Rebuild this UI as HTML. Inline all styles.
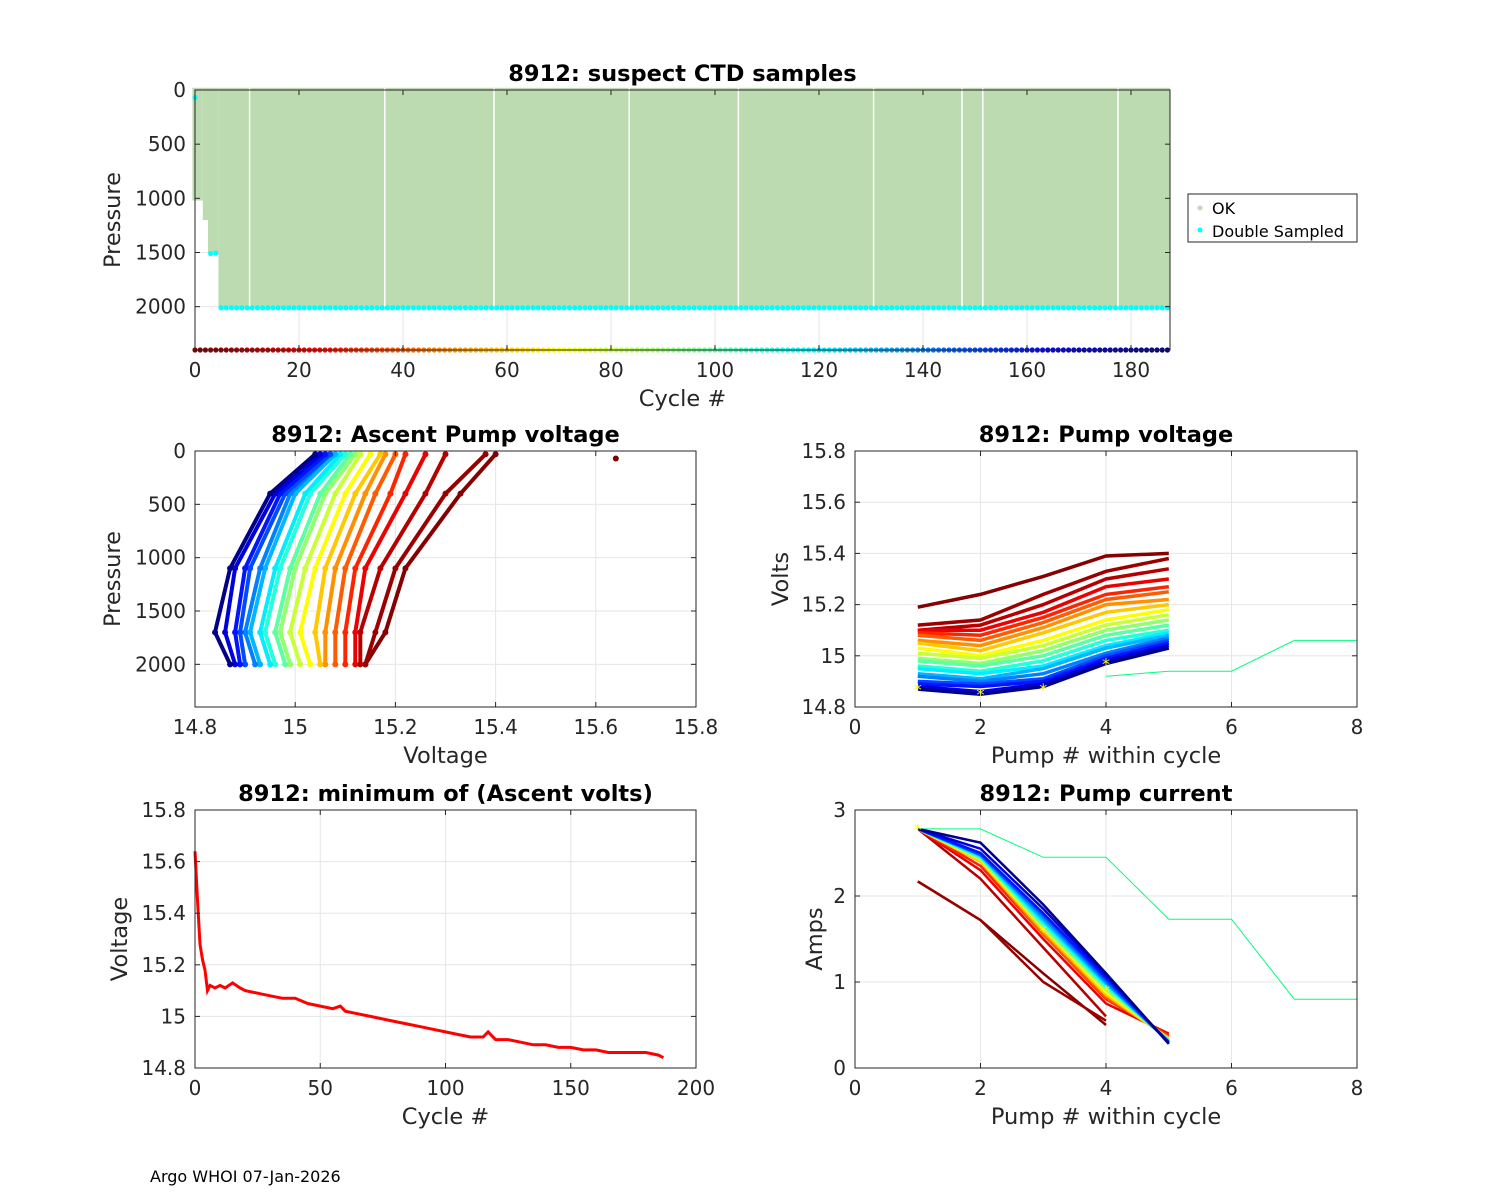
<!DOCTYPE html>
<html><head><meta charset="utf-8">
<style>
body{margin:0;background:#fff;}
svg{display:block;font-family:"DejaVu Sans","Liberation Sans",sans-serif;}
.tick{font-size:20px;fill:#262626;}
.lab{font-size:22.5px;fill:#262626;}
.ttl{font-size:22.5px;font-weight:bold;fill:#000;}
</style></head>
<body>
<svg id="fig" width="1500" height="1200" viewBox="0 0 1500 1200">
<rect width="1500" height="1200" fill="#fff"/>
<text x="150" y="1182" font-size="16" fill="#000">Argo WHOI 07-Jan-2026</text>
</svg>
<script>
// ---------- data ----------
const depthRuns = [[0,1,1020],[2,2,1200],[3,4,1500],[5,187,2000]];
const gapCycles = [10.5,36.5,57.5,83.5,104.5,130.5,147.5,151.5,177.5];
const doubleSampledP = [[0,70],[3,1510],[4,1505]];
const lastCycle = 187;

const profCycles = [1,5,10,20,30,40,50,60,70,80,90,100,110,120,130,140,150,160,170,185];
const profPress = [30,400,1100,1700,2000];
const profVolts = [
 [15.40,15.33,15.22,15.18,15.14],[15.38,15.30,15.20,15.16,15.14],[15.30,15.26,15.17,15.13,15.13],
 [15.26,15.22,15.14,15.12,15.12],[15.22,15.19,15.12,15.10,15.10],[15.20,15.16,15.10,15.08,15.08],
 [15.18,15.14,15.08,15.06,15.06],[15.17,15.12,15.06,15.04,15.05],[15.15,15.10,15.04,15.01,15.03],
 [15.13,15.08,15.02,14.99,15.01],[15.12,15.06,15.00,14.97,14.99],[15.11,15.05,14.99,14.96,14.98],
 [15.10,15.03,14.97,14.94,14.96],[15.09,15.02,14.96,14.93,14.95],[15.08,15.00,14.94,14.91,14.93],
 [15.07,14.99,14.93,14.90,14.92],[15.07,14.98,14.91,14.89,14.90],[15.06,14.97,14.90,14.88,14.89],
 [15.05,14.96,14.88,14.86,14.88],[15.04,14.95,14.87,14.84,14.87]];

const pumpNums = [1,2,3,4,5];
const pumpVolts = [
 [15.19,15.24,15.31,15.39,15.40],[15.12,15.14,15.24,15.33,15.38],[15.10,15.12,15.20,15.30,15.34],
 [15.10,15.10,15.17,15.27,15.30],[15.09,15.08,15.15,15.24,15.27],[15.08,15.06,15.13,15.22,15.25],
 [15.06,15.04,15.11,15.20,15.22],[15.05,15.02,15.09,15.17,15.20],[15.03,15.00,15.06,15.14,15.18],
 [15.01,14.99,15.04,15.12,15.16],[14.99,14.97,15.02,15.10,15.14],[14.98,14.96,15.00,15.08,15.12],
 [14.96,14.94,14.98,15.06,15.10],[14.95,14.93,14.96,15.04,15.09],[14.93,14.91,14.95,15.03,15.08],
 [14.92,14.90,14.93,15.01,15.07],[14.90,14.89,14.91,15.00,15.06],[14.89,14.88,14.90,14.99,15.05],
 [14.88,14.86,14.89,14.98,15.04],[14.87,14.85,14.88,14.97,15.03]];
const outlierPumps = [4,5,6,7,8];
const outlierVolts = [14.92,14.94,14.94,15.06,15.06];
const starVolts = [[1,14.87],[2,14.85],[3,14.87],[4,14.97]];

const pumpAmps = [
 [2.17,1.72,1.10,0.50,null],[2.17,1.72,1.00,0.55,null],[2.78,2.20,1.40,0.60,null],
 [2.78,2.30,1.50,0.75,0.40],[2.78,2.35,1.55,0.80,0.38],[2.78,2.40,1.55,0.82,0.36],
 [2.78,2.40,1.58,0.85,0.35],[2.78,2.40,1.60,0.85,0.34],[2.78,2.42,1.62,0.88,0.34],
 [2.78,2.42,1.62,0.90,0.33],[2.78,2.44,1.65,0.92,0.33],[2.78,2.45,1.66,0.94,0.32],
 [2.78,2.45,1.68,0.95,0.32],[2.78,2.46,1.70,0.97,0.31],[2.78,2.47,1.72,0.98,0.31],
 [2.78,2.48,1.75,1.00,0.30],[2.78,2.48,1.78,1.02,0.30],[2.78,2.50,1.80,1.05,0.30],
 [2.78,2.55,1.85,1.08,0.29],[2.78,2.62,1.90,1.10,0.28]];
const outlierAmpPumps = [1,2,3,4,5,6,7,8];
const outlierAmps = [2.78,2.78,2.45,2.45,1.73,1.73,0.80,0.80];
const starAmps = [[1,2.78],[3,1.60],[4,0.90]];

const minCycles = [0,1,2,3,4,5,6,8,10,12,15,18,20,25,30,35,40,45,50,55,58,60,65,70,75,80,85,90,95,100,105,110,115,117,120,125,130,135,140,145,150,155,160,165,170,175,180,185,187];
const minVolts = [15.64,15.45,15.28,15.22,15.18,15.10,15.12,15.11,15.12,15.11,15.13,15.11,15.10,15.09,15.08,15.07,15.07,15.05,15.04,15.03,15.04,15.02,15.01,15.00,14.99,14.98,14.97,14.96,14.95,14.94,14.93,14.92,14.92,14.94,14.91,14.91,14.90,14.89,14.89,14.88,14.88,14.87,14.87,14.86,14.86,14.86,14.86,14.85,14.84];

// ---------- helpers ----------
const NS='http://www.w3.org/2000/svg';
const svg=document.getElementById('fig');
function el(tag,attrs,parent){const e=document.createElementNS(NS,tag);for(const k in attrs)e.setAttribute(k,attrs[k]);(parent||svg).appendChild(e);return e;}
function jet(t){t=Math.max(0,Math.min(1,t));const r=Math.max(0,Math.min(1,1.5-Math.abs(4*t-3))),g=Math.max(0,Math.min(1,1.5-Math.abs(4*t-2))),b=Math.max(0,Math.min(1,1.5-Math.abs(4*t-1)));return `rgb(${Math.round(r*255)},${Math.round(g*255)},${Math.round(b*255)})`;}
function cycColor(c){return jet(1-c/lastCycle);}
function makeAxes(o){
  const sx=v=>o.x0+(v-o.xmin)/(o.xmax-o.xmin)*(o.x1-o.x0);
  const sy=o.rev?(v=>o.y0+(v-o.ymin)/(o.ymax-o.ymin)*(o.y1-o.y0)):(v=>o.y1-(v-o.ymin)/(o.ymax-o.ymin)*(o.y1-o.y0));
  const g=el('g',{});
  el('rect',{x:o.x0,y:o.y0,width:o.x1-o.x0,height:o.y1-o.y0,fill:'#fff'},g);
  const grid=el('g',{stroke:'#e6e6e6','stroke-width':1},g);
  o.xt.forEach(v=>el('line',{x1:sx(v),x2:sx(v),y1:o.y0,y2:o.y1},grid));o.yt.forEach(v=>el('line',{x1:o.x0,x2:o.x1,y1:sy(v),y2:sy(v)},grid));
  const plot=el('g',{},g);
  return {sx,sy,g,plot,o};
}
function finishAxes(A){
  const o=A.o,g=A.g,sx=A.sx,sy=A.sy;
  const fr=el('g',{},g);
  el('rect',{x:o.x0,y:o.y0,width:o.x1-o.x0,height:o.y1-o.y0,fill:'none',stroke:'#262626','stroke-width':1},fr);
  o.xt.forEach((v,i)=>{const x=sx(v);
    el('line',{x1:x,x2:x,y1:o.y1,y2:o.y1-5,stroke:'#262626'},fr);el('line',{x1:x,x2:x,y1:o.y0,y2:o.y0+5,stroke:'#262626'},fr);
    const t=el('text',{x:x,y:o.y1+27,'text-anchor':'middle',class:'tick'},fr);t.textContent=o.xl[i];});
  o.yt.forEach((v,i)=>{const y=sy(v);
    el('line',{x1:o.x0,x2:o.x0+5,y1:y,y2:y,stroke:'#262626'},fr);el('line',{x1:o.x1,x2:o.x1-5,y1:y,y2:y,stroke:'#262626'},fr);
    const t=el('text',{x:o.x0-9,y:y+7,'text-anchor':'end',class:'tick'},fr);t.textContent=o.yl[i];});
  const tt=el('text',{x:(o.x0+o.x1)/2,y:o.y0-9,'text-anchor':'middle',class:'ttl'},fr);tt.textContent=o.title;
  const xl=el('text',{x:(o.x0+o.x1)/2,y:o.y1+56,'text-anchor':'middle',class:'lab'},fr);xl.textContent=o.xlabel;
  const cy=(o.y0+o.y1)/2,cx=o.ylx;
  const yl=el('text',{x:cx,y:cy,'text-anchor':'middle',class:'lab',transform:`rotate(-90 ${cx} ${cy})`},fr);yl.textContent=o.ylabel;
}
function poly(A,xs,ys,attrs){const pts=[];xs.forEach((x,i)=>{if(ys[i]!=null)pts.push(A.sx(x).toFixed(1)+','+A.sy(ys[i]).toFixed(1));});return el('polyline',Object.assign({points:pts.join(' '),fill:'none'},attrs),A.plot);}
function star(A,x,y){const p=el('text',{x:A.sx(x),y:A.sy(y)+6,'text-anchor':'middle','font-size':16,fill:'#ffff00'},A.plot);p.textContent='*';}

// ---------- top panel ----------
const T=makeAxes({name:'suspect-ctd-panel',x0:195,x1:1170,y0:90,y1:350,xmin:0,xmax:187.5,ymin:0,ymax:2400,rev:true,
 xt:[0,20,40,60,80,100,120,140,160,180],xl:['0','20','40','60','80','100','120','140','160','180'],
 yt:[0,500,1000,1500,2000],yl:['0','500','1000','1500','2000'],title:'8912: suspect CTD samples',xlabel:'Cycle #',ylabel:'Pressure',ylx:120});
depthRuns.forEach(r=>{
  const b=el('rect',{x:T.sx(r[0]-0.5),y:T.sy(-20),width:T.sx(r[1]+0.5)-T.sx(r[0]-0.5),height:T.sy(r[2])-T.sy(-20),fill:'#bddbb0'},T.plot);
  
});
gapCycles.forEach(c=>{const l=el('line',{x1:T.sx(c),x2:T.sx(c),y1:T.sy(-20),y2:T.sy(2000),stroke:'#fff','stroke-width':1.5},T.plot);});
for(let c=5;c<=lastCycle;c++){const d=el('circle',{cx:T.sx(c),cy:T.sy(2010),r:2.6,fill:'#00ffff'},T.plot);}
doubleSampledP.forEach(p=>{const d=el('circle',{cx:T.sx(p[0]),cy:T.sy(p[1]),r:2.6,fill:'#00ffff'},T.plot);});
for(let c=0;c<=lastCycle;c++){const d=el('circle',{cx:T.sx(c),cy:T.sy(2400),r:2.6,fill:cycColor(c)},T.plot);}
finishAxes(T);
const lg=el('g',{});
el('rect',{x:1188,y:194,width:169,height:48,fill:'#fff',stroke:'#262626'},lg);
el('circle',{cx:1200,cy:208,r:2.5,fill:'#bddbb0'},lg);
const l1=el('text',{x:1212,y:214,'font-size':16,fill:'#000'},lg);l1.textContent='OK';
el('circle',{cx:1200,cy:230,r:2.5,fill:'#00ffff'},lg);
const l2=el('text',{x:1212,y:237,'font-size':16,fill:'#000'},lg);l2.textContent='Double Sampled';

// ---------- ascent voltage ----------
const A1=makeAxes({name:'ascent-voltage-panel',x0:195,x1:696,y0:451,y1:707,xmin:14.8,xmax:15.8,ymin:0,ymax:2400,rev:true,
 xt:[14.8,15,15.2,15.4,15.6,15.8],xl:['14.8','15','15.2','15.4','15.6','15.8'],
 yt:[0,500,1000,1500,2000],yl:['0','500','1000','1500','2000'],title:'8912: Ascent Pump voltage',xlabel:'Voltage',ylabel:'Pressure',ylx:120});
profCycles.forEach((c,i)=>{
  const p=poly(A1,profVolts[i],profPress,{stroke:cycColor(c),'stroke-width':4});
  
  profPress.forEach((pr,j)=>{const d=el('circle',{cx:A1.sx(profVolts[i][j]),cy:A1.sy(pr),r:3,fill:cycColor(c)},A1.plot);});
});
{const d=el('circle',{cx:A1.sx(15.64),cy:A1.sy(70),r:3,fill:cycColor(0)},A1.plot);}
finishAxes(A1);

// ---------- pump voltage ----------
const A2=makeAxes({name:'pump-voltage-panel',x0:855,x1:1357,y0:451,y1:707,xmin:0,xmax:8,ymin:14.8,ymax:15.8,
 xt:[0,2,4,6,8],xl:['0','2','4','6','8'],yt:[14.8,15,15.2,15.4,15.6,15.8],yl:['14.8','15','15.2','15.4','15.6','15.8'],
 title:'8912: Pump voltage',xlabel:'Pump # within cycle',ylabel:'Volts',ylx:788});
profCycles.forEach((c,i)=>{const p=poly(A2,pumpNums,pumpVolts[i],{stroke:cycColor(c),'stroke-width':3.5});});
{const p=poly(A2,outlierPumps,outlierVolts,{stroke:'#00ff80','stroke-width':1});}
starVolts.forEach(s=>star(A2,s[0],s[1]));
finishAxes(A2);

// ---------- min voltage ----------
const A3=makeAxes({name:'min-voltage-panel',x0:195,x1:696,y0:810,y1:1068,xmin:0,xmax:200,ymin:14.8,ymax:15.8,
 xt:[0,50,100,150,200],xl:['0','50','100','150','200'],yt:[14.8,15,15.2,15.4,15.6,15.8],yl:['14.8','15','15.2','15.4','15.6','15.8'],
 title:'8912: minimum of (Ascent volts)',xlabel:'Cycle #',ylabel:'Voltage',ylx:127});
{const p=poly(A3,minCycles,minVolts,{stroke:'#ff0000','stroke-width':3});}
finishAxes(A3);

// ---------- pump current ----------
const A4=makeAxes({name:'pump-current-panel',x0:855,x1:1357,y0:810,y1:1068,xmin:0,xmax:8,ymin:0,ymax:3,
 xt:[0,2,4,6,8],xl:['0','2','4','6','8'],yt:[0,1,2,3],yl:['0','1','2','3'],
 title:'8912: Pump current',xlabel:'Pump # within cycle',ylabel:'Amps',ylx:822});
{const p=poly(A4,outlierAmpPumps,outlierAmps,{stroke:'#00ff80','stroke-width':1});}
profCycles.forEach((c,i)=>{const p=poly(A4,pumpNums,pumpAmps[i],{stroke:cycColor(c),'stroke-width':2.5});});
starAmps.forEach(s=>star(A4,s[0],s[1]));
finishAxes(A4);
</script>
</body></html>
